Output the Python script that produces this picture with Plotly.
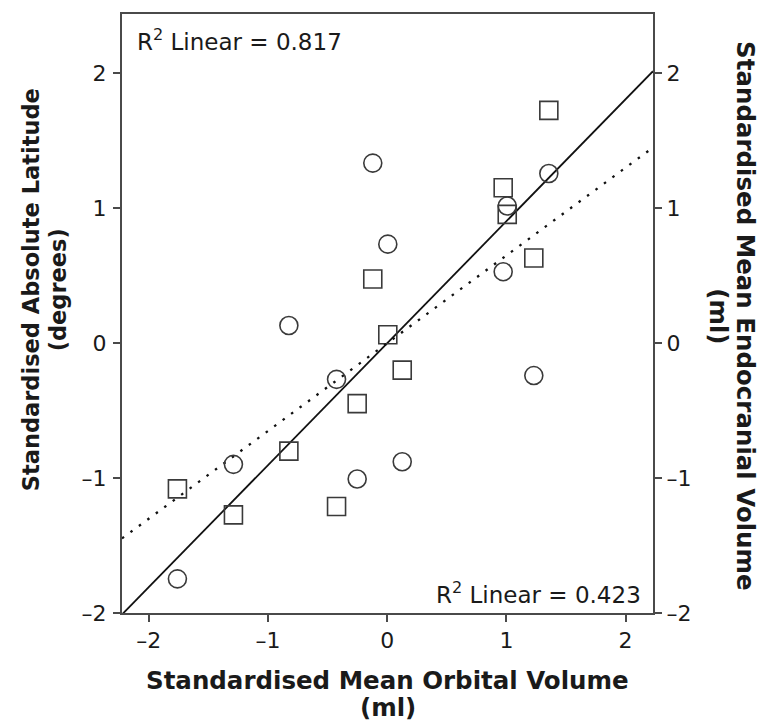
import numpy as np
import plotly.graph_objects as go

# Standardised mean orbital volume for each population (shared x values)
orbital_volume = [-1.76, -1.29, -0.825, -0.425, -0.252, -0.121, 0.005, 0.126, 0.973, 1.007, 1.23, 1.356]
# Standardised absolute latitude (squares, left axis)
abs_latitude = [-1.08, -1.273, -0.80, -1.211, -0.448, 0.476, 0.062, -0.20, 1.152, 0.955, 0.631, 1.726]
# Standardised mean endocranial volume (circles, right axis)
endocranial_volume = [-1.747, -0.898, 0.131, -0.268, -1.007, 1.335, 0.734, -0.879, 0.53, 1.017, -0.24, 1.258]

r2_latitude = 0.817
r2_endocranial = 0.423

tick_vals = [-2, -1, 0, 1, 2]
tick_text = ["\u20132", "\u20131", "0", "1", "2"]

x_range = [-2.225, 2.23]
y_range = [-2.0, 2.44]

FONT = "DejaVu Sans"
INK = "#1a1a1a"
AXIS = "#4a4a4a"

fig = go.Figure()

# Fit lines for standardised variables: slope = r = sqrt(R^2), through the origin
xl = np.array(x_range)
fig.add_trace(go.Scatter(
    x=xl, y=np.sqrt(r2_latitude) * xl, mode="lines",
    line=dict(color="#111111", width=1.8), yaxis="y", showlegend=False, hoverinfo="skip"))
fig.add_trace(go.Scatter(
    x=xl, y=np.sqrt(r2_endocranial) * xl, mode="lines",
    line=dict(color="#111111", width=2.3, dash="2.5px,8px"), yaxis="y2",
    showlegend=False, hoverinfo="skip"))

fig.add_trace(go.Scatter(
    x=orbital_volume, y=abs_latitude, mode="markers", yaxis="y",
    marker=dict(symbol="square-open", size=18, color="#3a3a3a", line=dict(width=1.6)),
    showlegend=False))
fig.add_trace(go.Scatter(
    x=orbital_volume, y=endocranial_volume, mode="markers", yaxis="y2",
    marker=dict(symbol="circle-open", size=18, color="#3a3a3a", line=dict(width=1.6)),
    showlegend=False))

axis_common = dict(
    showgrid=False, zeroline=False, showline=True, linecolor=AXIS, linewidth=2,
    ticks="outside", ticklen=7, tickwidth=1.5, tickcolor=AXIS,
    tickvals=tick_vals, ticktext=tick_text,
    tickfont=dict(family=FONT, size=22, color=INK),
)

fig.update_layout(
    width=759, height=722,
    margin=dict(l=122, r=106, t=12, b=109),
    plot_bgcolor="white", paper_bgcolor="white",
    xaxis=dict(range=x_range, mirror=True, **axis_common),
    yaxis=dict(range=y_range, mirror=True, ticklabelstandoff=2, **axis_common),
    yaxis2=dict(range=y_range, overlaying="y", side="right", **axis_common),
)

title_font = dict(family=FONT, size=24.5, color=INK, weight="bold")
left_title_font = dict(family=FONT, size=22.5, color=INK, weight="bold")
ann_font = dict(family=FONT, size=23, color=INK)

annotations = [
    dict(text="R<sup>2</sup> Linear = " + f"{r2_latitude:.3f}", x=0.024, y=0.957,
         xanchor="left", yanchor="middle", font=ann_font),
    dict(text="R<sup>2</sup> Linear = " + f"{r2_endocranial:.3f}", x=0.982, y=0.034,
         xanchor="right", yanchor="middle", font=ann_font),
    # x-axis title
    dict(text="Standardised Mean Orbital Volume", x=0.5, y=-0.112,
         xanchor="center", yanchor="middle", font=title_font),
    dict(text="(ml)", x=0.5, y=-0.157, xanchor="center", yanchor="middle", font=title_font),
    # left y-axis title
    dict(text="Standardised Absolute Latitude", x=-0.172, y=0.54, textangle=-90,
         xanchor="center", yanchor="middle", font=left_title_font),
    dict(text="(degrees)", x=-0.121, y=0.54, textangle=-90,
         xanchor="center", yanchor="middle", font=left_title_font),
    # right y-axis title
    dict(text="Standardised Mean Endocranial Volume", x=1.174, y=0.495, textangle=90,
         xanchor="center", yanchor="middle", font=title_font),
    dict(text="(ml)", x=1.123, y=0.495, textangle=90,
         xanchor="center", yanchor="middle", font=title_font),
]
for a in annotations:
    a.update(xref="paper", yref="paper", showarrow=False)
fig.update_layout(annotations=annotations)

fig.write_html("out.html")
